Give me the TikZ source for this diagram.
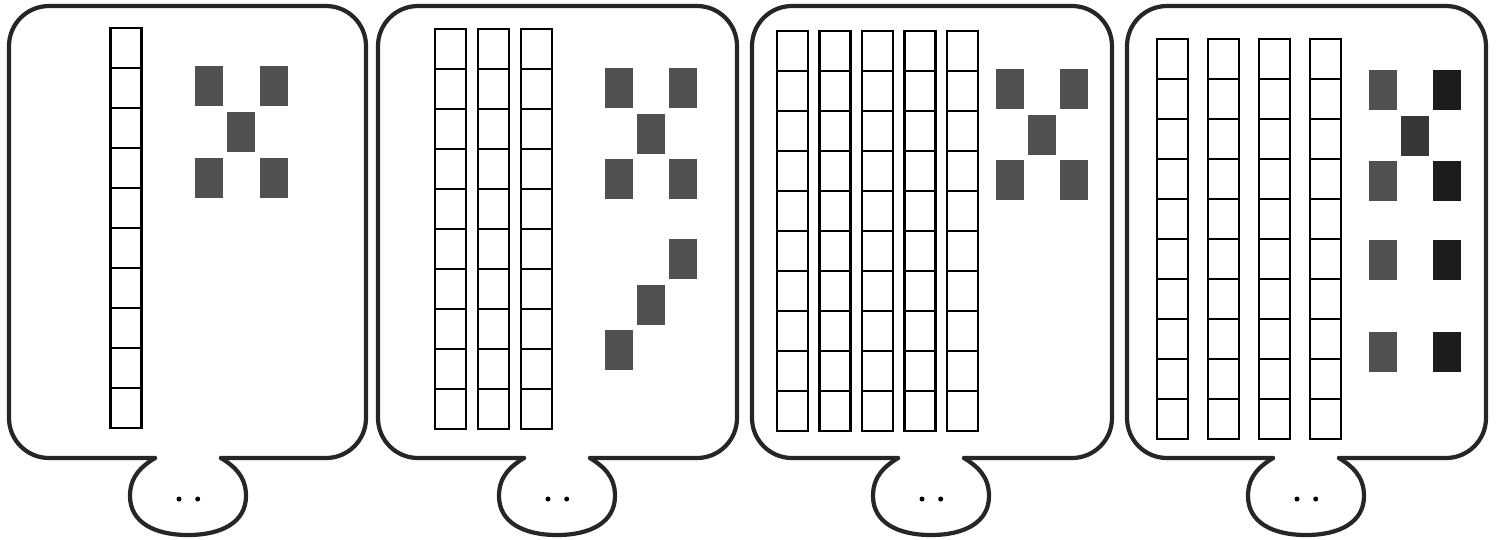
\documentclass[tikz,border=0pt]{standalone}
\usetikzlibrary{positioning}
\definecolor{beadgray}{RGB}{80,80,80}
\definecolor{beaddark}{RGB}{55,55,55}
\definecolor{beadblack}{RGB}{28,28,28}
\begin{document}
\begin{tikzpicture}[x=0.02cm,y=-0.02cm,
    outline/.style={line width=2.4pt,draw=black!85,line cap=round,line join=round},
    cell/.style={draw,line width=1.3pt,minimum width=0.62cm,minimum height=0.8cm,inner sep=0pt,outer sep=0pt},
    bead/.style={fill=#1,minimum width=0.56cm,minimum height=0.8cm,inner sep=0pt},
    bead/.default=beadgray,
    pip/.style={circle,fill=black,minimum size=0.1cm,inner sep=0pt}]
  \useasboundingbox (0,0) rectangle (1509,539);
  % Cards with the little tab
  \foreach \p/\xa/\xb/\cx in {1/9/366/188,2/378/737/557,3/752/1112/931,4/1127/1486/1306}{
    \draw[outline,rounded corners=0.8cm] (\cx-33,458) -- (\xa,458) -- (\xa,6)
      -- (\xb,6) -- (\xb,458) -- (\cx+33,458);
    \draw[outline] (\cx+33,458) .. controls (\cx+46,466) and (\cx+58,476) .. (\cx+58,496)
      .. controls (\cx+58,522) and (\cx+34,535) .. (\cx,535)
      .. controls (\cx-34,535) and (\cx-58,522) .. (\cx-58,496)
      .. controls (\cx-58,476) and (\cx-46,466) .. (\cx-33,458);
    \node[pip] (l\p) at (\cx-9,499) {};
    \node[pip,right=0.26cm of l\p] (r\p) {};
  }
  % Columns of ten
  \foreach \c/\x/\t in {p1c1/126/48,
                         p2c1/450.5/49,p2c2/493.5/49,p2c3/536.5/49,
                         p3c1/792.5/51,p3c2/835/51,p3c3/877.5/51,p3c4/920/51,p3c5/962.5/51,
                         p4c1/1172.5/59,p4c2/1223.5/59,p4c3/1274.5/59,p4c4/1325.5/59}{
    \foreach \j in {1,...,10}{
      \node[cell] (\c-\j) at (\x,\t+40*\j-40) {};
    }
  }
  % Ones
  \foreach \n/\x/\y/\c in {b1/209/86/beadgray,b2/274/86/beadgray,b3/241/132/beadgray,
                           b4/209/178/beadgray,b5/274/178/beadgray,
                           b6/619/88/beadgray,b7/683/88/beadgray,b8/651/134/beadgray,
                           b9/619/179/beadgray,b10/683/179/beadgray,b11/683/259/beadgray,
                           b12/651/305/beadgray,b13/619/350/beadgray,
                           b14/1010/89/beadgray,b15/1074/89/beadgray,b16/1042/135/beadgray,
                           b17/1010/180/beadgray,b18/1074/180/beadgray,
                           b19/1383/90/beadgray,b20/1447/90/beadblack,b21/1415/136/beaddark,
                           b22/1383/181/beadgray,b23/1447/181/beadblack,
                           b24/1383/260/beadgray,b25/1447/260/beadblack,
                           b26/1383/352/beadgray,b27/1447/352/beadblack}{
    \node[bead=\c] (\n) at (\x,\y) {};
  }
\end{tikzpicture}
\end{document}
